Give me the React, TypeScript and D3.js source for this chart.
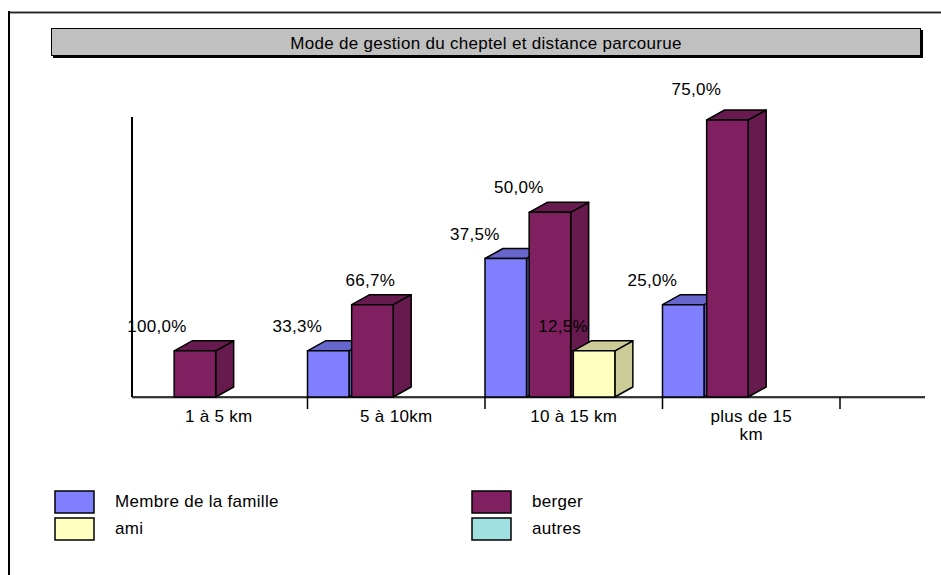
import React from "react";
import * as d3 from "d3";

const title = "Mode de gestion du cheptel et distance parcourue";
const categories = ["1 à 5 km", "5 à 10km", "10 à 15 km", "plus de 15 km"];
const seriesNames = ["Membre de la famille", "berger", "ami", "autres"];
const seriesColors = ["#8080FF", "#802060", "#FFFFC0", "#A0E0E0"];
const membre = [0, 1, 3, 2];
const berger = [1, 2, 4, 6];
const ami = [0, 0, 1, 0];
const autres = [0, 0, 0, 0];
const seriesValues = [membre, berger, ami, autres];

// label placement tweaks (layout only)
const labelNudge: Record<string, [number, number]> = {
  "1 à 5 km|berger": [-7, 0],
  "5 à 10km|berger": [29, 0],
  "plus de 15 km|berger": [0, -6],
};

const W = 941;
const H = 575;
const FONT = "'Liberation Sans', Arial, sans-serif";
const DX = 18;
const DY = -10;

const fmtPct = (v: number) => d3.format(".1f")(v * 100).replace(".", ",") + "%";

function wrap(label: string, maxChars: number): string[] {
  const words = label.split(" ");
  const lines: string[] = [];
  let cur = "";
  for (const w of words) {
    const next = cur ? cur + " " + w : w;
    if (next.length > maxChars && cur) {
      lines.push(cur);
      cur = w;
    } else cur = next;
  }
  if (cur) lines.push(cur);
  return lines;
}

export default function App() {
  const x = d3.scaleBand<string>().domain(categories).range([130, 840]).paddingInner(0).paddingOuter(0);
  const xs = d3.scaleBand<string>().domain(seriesNames).range([0, 174]).paddingInner(0.06).paddingOuter(0);
  const y = d3.scaleLinear().domain([0, 6]).range([397, 120]);
  const axisLeft = 132;
  const axisRight = 925;
  const y0 = y(0);

  const totals = categories.map((_, i) => d3.sum(seriesValues, (s) => s[i]));

  const bars: any[] = [];
  categories.forEach((c, ci) => {
    seriesNames.forEach((s, si) => {
      const v = seriesValues[si][ci];
      if (!v) return;
      bars.push({ c, ci, s, si, v, pct: v / totals[ci] });
    });
  });

  const darker = (col: string) => d3.rgb(col).darker(0.63).formatHex();

  const textStyle: React.CSSProperties = { fontFamily: FONT, fontSize: 17, letterSpacing: 0.3 };

  return (
    <svg width={W} height={H} style={{ position: "absolute", left: 0, top: 0, background: "#fff" }}>
      {/* outer frame */}
      <line x1={8} y1={12.5} x2={W} y2={12.5} stroke="#808080" strokeWidth={2.5} />
      <line x1={8} y1={12.5} x2={W} y2={12.5} stroke="#222" strokeWidth={1} />
      <line x1={9} y1={11} x2={9} y2={H} stroke="#000" strokeWidth={2} />

      {/* title box */}
      <rect x={53} y={30} width={870} height={28} fill="#000" />
      <rect x={51.5} y={28.5} width={869} height={27} fill="#C0C0C0" stroke="#000" strokeWidth={1} />
      <text x={486} y={48.5} textAnchor="middle" style={textStyle} fill="#000">
        {title}
      </text>

      {/* axes */}
      <line x1={axisLeft} y1={117} x2={axisLeft} y2={y0} stroke="#000" strokeWidth={2} />
      <line x1={axisLeft} y1={y0 + 1} x2={axisRight} y2={y0 + 1} stroke="#808080" strokeWidth={1} />
      <line x1={axisLeft} y1={y0} x2={axisRight} y2={y0} stroke="#000" strokeWidth={1.5} />
      {categories.map((c) => (
        <line key={"t" + c} x1={x(c)! + x.bandwidth()} y1={y0} x2={x(c)! + x.bandwidth()} y2={y0 + 12} stroke="#000" strokeWidth={1.5} />
      ))}
      {categories.map((c) => {
        const lines = wrap(c, 11);
        return (
          <text key={"l" + c} x={x(c)! + x.bandwidth() / 2} y={422} textAnchor="middle" style={textStyle} fill="#000">
            {lines.map((ln, i) => (
              <tspan key={i} x={x(c)! + x.bandwidth() / 2} dy={i === 0 ? 0 : 18}>
                {ln}
              </tspan>
            ))}
          </text>
        );
      })}

      {/* bars */}
      {bars.map((b) => {
        const bx = x(b.c)! + xs(b.s)!;
        const bw = xs.bandwidth();
        const top = y(b.v);
        const col = seriesColors[b.si];
        const dk = darker(col);
        return (
          <g key={b.c + b.s} stroke="#000" strokeWidth={1.5} strokeLinejoin="round">
            <polygon points={`${bx + bw},${y0} ${bx + bw + DX},${y0 + DY} ${bx + bw + DX},${top + DY} ${bx + bw},${top}`} fill={dk} />
            <polygon points={`${bx},${top} ${bx + DX},${top + DY} ${bx + bw + DX},${top + DY} ${bx + bw},${top}`} fill={dk} />
            <rect x={bx} y={top} width={bw} height={y0 - top} fill={col} />
          </g>
        );
      })}

      {/* labels */}
      {bars.map((b) => {
        const nudge = labelNudge[b.c + "|" + b.s] || [0, 0];
        const bx = x(b.c)! + xs(b.s)! + xs.bandwidth() / 2 - 31 + nudge[0];
        return (
          <text key={"v" + b.c + b.s} x={bx} y={y(b.v) - 19 + nudge[1]} textAnchor="middle" style={textStyle} fill="#000">
            {fmtPct(b.pct)}
          </text>
        );
      })}

      {/* legend */}
      {seriesNames.map((s, i) => {
        const col = i % 2;
        const row = Math.floor(i / 2);
        const lx = col === 0 ? 55 : 472;
        const ly = 491 + row * 27;
        return (
          <g key={"lg" + s}>
            <rect x={lx} y={ly} width={39} height={22} fill={seriesColors[i]} stroke="#000" strokeWidth={1.5} />
            <text x={lx + 60} y={ly + 16} style={textStyle} fill="#000">
              {s}
            </text>
          </g>
        );
      })}
    </svg>
  );
}
